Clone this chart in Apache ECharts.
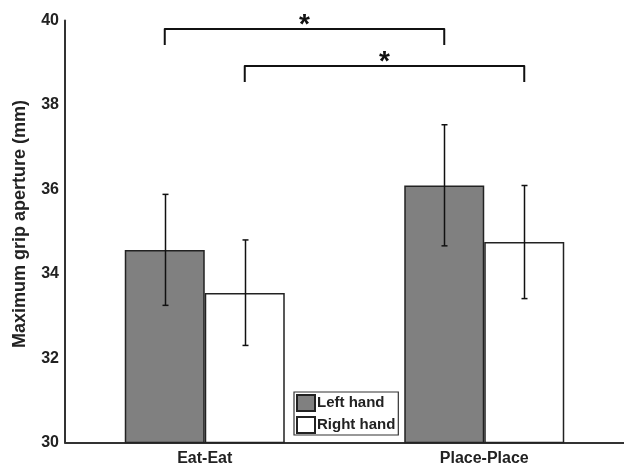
<!DOCTYPE html>
<html>
<head>
<meta charset="utf-8">
<script src="https://cdn.jsdelivr.net/npm/echarts@6/dist/echarts.min.js"></script>
<style>
html,body{margin:0;padding:0;background:#fff;}
#chart{width:624px;height:467px;}
</style>
</head>
<body>
<div id="chart"></div>
<script>
const categories = ['Eat-Eat', 'Place-Place'];
const leftHand = [34.56, 36.09];
const rightHand = [33.54, 34.75];
const leftErrLow = [33.25, 34.66];
const leftErrHigh = [35.88, 37.53];
const rightErrLow = [32.30, 33.41];
const rightErrHigh = [34.80, 36.09];
const yMin = 30, yMax = 40, yStep = 2;
// comparisons: [fromCategory, fromSide(-1 left bar, 1 right bar), toCategory, toSide, level, drop, label]
const bracketFrom = [0, 0];
const bracketFromSide = [-1, 1];
const bracketTo = [1, 1];
const bracketToSide = [-1, 1];
const bracketLevel = [39.80, 38.92];
const bracketDrop = [0.38, 0.38];
const bracketLabel = ['*', '*'];

const BAR_W = 80;
const TEXT = '#222';
const FONT = 'Liberation Sans, Arial, sans-serif';

const chart = echarts.init(document.getElementById('chart'), null, {renderer: 'canvas'});

function errorSeries(name, low, high, side) {
  return {
    type: 'custom',
    name: name + ' err',
    z: 10,
    silent: true,
    renderItem: function (params, api) {
      const c = api.value(0);
      const lo = api.coord([c, api.value(1)]);
      const hi = api.coord([c, api.value(2)]);
      const x = Math.round(lo[0] + side * BAR_W / 2) + 0.5;
      const cap = 3;
      const st = {stroke: '#111', lineWidth: 1.5};
      return {
        type: 'group',
        children: [
          {type: 'line', shape: {x1: x, y1: lo[1], x2: x, y2: hi[1]}, style: st},
          {type: 'line', shape: {x1: x - cap, y1: lo[1], x2: x + cap, y2: lo[1]}, style: st},
          {type: 'line', shape: {x1: x - cap, y1: hi[1], x2: x + cap, y2: hi[1]}, style: st}
        ]
      };
    },
    data: low.map((v, i) => [i, v, high[i]])
  };
}

const bracketData = bracketLevel.map((lv, i) => [bracketFrom[i], bracketFromSide[i], bracketTo[i], bracketToSide[i], lv, bracketDrop[i], i]);

const option = {
  animation: false,
  backgroundColor: '#fff',
  grid: {left: 65, top: 20.5, width: 564, bottom: 24.5, containLabel: false},
  legend: {
    show: true,
    left: 294,
    top: 392,
    orient: 'vertical',
    icon: 'rect',
    data: ['Left hand', 'Right hand'],
    itemWidth: 18,
    itemHeight: 16,
    itemGap: 4,
    padding: [2, 3, 1, 2],
    borderColor: '#333',
    borderWidth: 1.2,
    backgroundColor: '#fff',
    textStyle: {fontFamily: FONT, fontSize: 15, fontWeight: 'bold', color: TEXT, padding: [0, 0, 0, -3]},
    selectedMode: false
  },
  xAxis: {
    type: 'category',
    data: categories,
    axisLine: {show: true, lineStyle: {color: '#333', width: 2}},
    axisTick: {show: false},
    axisLabel: {fontFamily: FONT, fontSize: 16, fontWeight: 'bold', color: TEXT, margin: 8},
    splitLine: {show: false}
  },
  yAxis: {
    type: 'value',
    min: yMin,
    max: yMax,
    interval: yStep,
    name: 'Maximum grip aperture (mm)',
    nameLocation: 'middle',
    nameGap: 36,
    nameTextStyle: {fontFamily: FONT, fontSize: 18, fontWeight: 'bold', color: TEXT, padding: [0, 0, 0, 15]},
    axisLine: {show: true, lineStyle: {color: '#333', width: 2}},
    axisTick: {show: false},
    axisLabel: {fontFamily: FONT, fontSize: 16, fontWeight: 'bold', color: TEXT, margin: 6},
    splitLine: {show: false}
  },
  series: [
    {
      type: 'bar',
      name: 'Left hand',
      data: leftHand,
      barWidth: BAR_W,
      barGap: '0%',
      itemStyle: {color: '#808080', borderColor: '#222', borderWidth: 1.5}
    },
    {
      type: 'bar',
      name: 'Right hand',
      data: rightHand,
      barWidth: BAR_W,
      barGap: '0%',
      itemStyle: {color: '#ffffff', borderColor: '#222', borderWidth: 1.5}
    },
    errorSeries('Left hand', leftErrLow, leftErrHigh, -1),
    errorSeries('Right hand', rightErrLow, rightErrHigh, 1),
    {
      type: 'custom',
      name: 'brackets',
      silent: true,
      z: 10,
      renderItem: function (params, api) {
        const p1 = api.coord([api.value(0), api.value(4)]);
        const p2 = api.coord([api.value(2), api.value(4)]);
        const pd = api.coord([api.value(0), api.value(4) - api.value(5)]);
        const x1 = p1[0] + api.value(1) * BAR_W / 2;
        const x2 = p2[0] + api.value(3) * BAR_W / 2;
        const y = p1[1];
        const yd = pd[1];
        return {
          type: 'group',
          children: [
            {type: 'polyline', shape: {points: [[x1, yd], [x1, y], [x2, y], [x2, yd]]},
             style: {stroke: '#111', lineWidth: 2, fill: null, lineJoin: 'round', lineCap: 'butt'}},
            {type: 'text', x: (x1 + x2) / 2, y: y - 4,
             style: {text: bracketLabel[api.value(6)], fontFamily: FONT, fontSize: 28, fontWeight: 'bold', fill: '#111', align: 'center', verticalAlign: 'middle'}}
          ]
        };
      },
      data: bracketData
    }
  ]
};
chart.setOption(option);
</script>
</body>
</html>
